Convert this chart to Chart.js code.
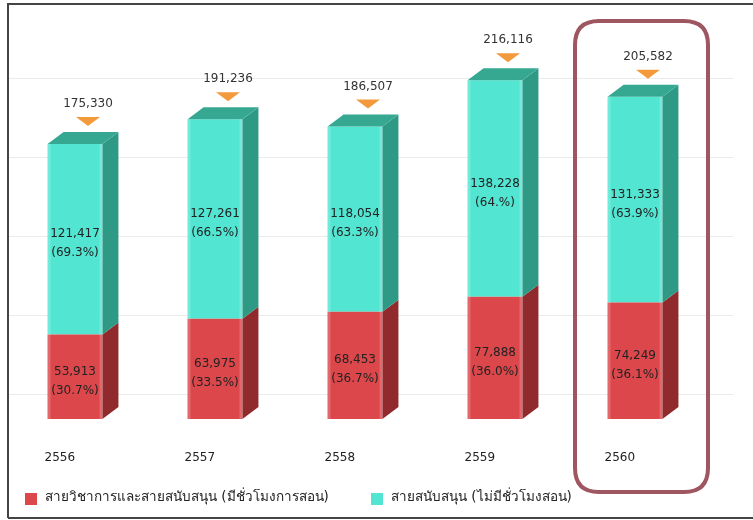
<!DOCTYPE html>
<html>
<head>
<meta charset="utf-8">
<script src="https://cdn.jsdelivr.net/npm/chart.js@4.4.1/dist/chart.umd.min.js"></script>
<style>
  html, body { margin: 0; padding: 0; background: #fff; }
  #wrap { width: 753px; height: 520px; }
</style>
</head>
<body>
<div id="wrap"><canvas id="staffChart" width="753" height="520"></canvas></div>
<script>
// data
const years = ['2556', '2557', '2558', '2559', '2560'];
const academic = [53913, 63975, 68453, 77888, 74249];
const support = [121417, 127261, 118054, 138228, 131333];
const totals = [175330, 191236, 186507, 216116, 205582];
const academicPct = ['30.7%', '33.5%', '36.7%', '36.0%', '36.1%'];
const supportPct = ['69.3%', '66.5%', '63.3%', '64.%', '63.9%'];
const gridValues = [16000, 66300, 116700, 167000, 217400];
const seriesNames = ['สายวิชาการและสายสนับสนุน (มีชั่วโมงการสอน)', 'สายสนับสนุน (ไม่มีชั่วโมงสอน)'];
const highlightIndex = 4;

const FONT = '12px "DejaVu Sans", Tahoma, sans-serif';
const DX = 16, DY = 12; // 3d depth offset

const faces = [
    { front: '#dc474b', side: '#902a2d', top: '#b8383b' },
    { front: '#52e6d2', side: '#2e9a86', top: '#36a892' }
];

function fmt(n) {
    return n.toLocaleString('en-US');
}

function roundRect(ctx, x, y, w, h, r) {
    ctx.beginPath();
    ctx.moveTo(x + r, y);
    ctx.lineTo(x + w - r, y);
    ctx.quadraticCurveTo(x + w, y, x + w, y + r);
    ctx.lineTo(x + w, y + h - r);
    ctx.quadraticCurveTo(x + w, y + h, x + w - r, y + h);
    ctx.lineTo(x + r, y + h);
    ctx.quadraticCurveTo(x, y + h, x, y + h - r);
    ctx.lineTo(x, y + r);
    ctx.quadraticCurveTo(x, y, x + r, y);
    ctx.closePath();
}

// back grid lines
const backPlugin = {
    id: 'back',
    beforeDatasetsDraw(chart) {
        const ctx = chart.ctx;
        const y = chart.scales.y;
        ctx.save();
        ctx.strokeStyle = '#ebebeb';
        ctx.lineWidth = 1;
        gridValues.forEach(v => {
            const py = Math.round(y.getPixelForValue(v)) + 0.5;
            ctx.beginPath();
            ctx.moveTo(8, py);
            ctx.lineTo(733, py);
            ctx.stroke();
        });
        ctx.restore();
    }
};

// side/top faces, labels, markers, legend, highlight
const barDecor = {
    id: 'barDecor',
    afterDatasetsDraw(chart) {
        const ctx = chart.ctx;
        ctx.save();
        chart.data.datasets.forEach((ds, di) => {
            const meta = chart.getDatasetMeta(di);
            meta.data.forEach((bar, i) => {
                const left = bar.x - bar.width / 2;
                const right = bar.x + bar.width / 2;
                const top = Math.min(bar.y, bar.base);
                const bottom = Math.max(bar.y, bar.base);
                // side face
                ctx.fillStyle = faces[di].side;
                ctx.beginPath();
                ctx.moveTo(right, top);
                ctx.lineTo(right + DX, top - DY);
                ctx.lineTo(right + DX, bottom - DY);
                ctx.lineTo(right, bottom);
                ctx.closePath();
                ctx.fill();
                // top face only on the last series
                if (di === chart.data.datasets.length - 1) {
                    ctx.fillStyle = faces[di].top;
                    ctx.beginPath();
                    ctx.moveTo(left, top);
                    ctx.lineTo(left + DX, top - DY);
                    ctx.lineTo(right + DX, top - DY);
                    ctx.lineTo(right, top);
                    ctx.closePath();
                    ctx.fill();
                }
                // soft highlight on front edges
                ctx.fillStyle = 'rgba(255,255,255,0.18)';
                ctx.fillRect(left, top, 3, bottom - top);
                ctx.fillRect(right - 3, top, 3, bottom - top);

                // value labels
                const pct = di === 0 ? academicPct[i] : supportPct[i];
                const mid = (top + bottom) / 2 + 4;
                ctx.fillStyle = '#222';
                ctx.font = FONT;
                ctx.textAlign = 'center';
                ctx.textBaseline = 'middle';
                ctx.fillText(fmt(ds.data[i]), bar.x, mid - 9);
                ctx.fillText('(' + pct + ')', bar.x, mid + 10);
            });
        });

        // totals with orange markers
        const y = chart.scales.y;
        const topMeta = chart.getDatasetMeta(chart.data.datasets.length - 1);
        topMeta.data.forEach((bar, i) => {
            const py = y.getPixelForValue(totals[i]);
            const cx = bar.x + 13;
            const tipY = py - DY - 6;
            ctx.fillStyle = '#f39a3c';
            ctx.beginPath();
            ctx.moveTo(cx - 12, tipY - 9);
            ctx.lineTo(cx + 12, tipY - 9);
            ctx.lineTo(cx, tipY);
            ctx.closePath();
            ctx.fill();
            ctx.fillStyle = '#333';
            ctx.font = FONT;
            ctx.textAlign = 'center';
            ctx.textBaseline = 'middle';
            ctx.fillText(fmt(totals[i]), cx, tipY - 22);

            // year labels under the bars
            ctx.textAlign = 'left';
            ctx.fillStyle = '#222';
            ctx.fillText(years[i], bar.x - bar.width / 2 - 3, 458);
        });

        // highlight box around one year
        const hb = topMeta.data[highlightIndex];
        ctx.strokeStyle = '#9e5660';
        ctx.lineWidth = 4;
        roundRect(ctx, hb.x - 60, 21, 133, 471, 24);
        ctx.stroke();

        // legend
        ctx.font = '13.5px "DejaVu Sans", Tahoma, sans-serif';
        ctx.textAlign = 'left';
        ctx.textBaseline = 'middle';
        const legendX = [25, 371];
        chart.data.datasets.forEach((ds, di) => {
            ctx.fillStyle = faces[di].front;
            ctx.fillRect(legendX[di], 493, 12, 12);
            ctx.fillStyle = '#222';
            ctx.fillText(ds.label, legendX[di] + 20, 497);
        });

        // outer frame
        ctx.strokeStyle = '#444';
        ctx.lineWidth = 2;
        ctx.beginPath();
        ctx.moveTo(8, 518);
        ctx.lineTo(8, 4);
        ctx.lineTo(753, 4);
        ctx.moveTo(8, 518);
        ctx.lineTo(753, 518);
        ctx.stroke();
        ctx.restore();
    }
};

const ctx = document.getElementById('staffChart').getContext('2d');
new Chart(ctx, {
    type: 'bar',
    data: {
        labels: years,
        datasets: [
            {
                label: seriesNames[0],
                data: academic,
                backgroundColor: faces[0].front,
                borderWidth: 0
            },
            {
                label: seriesNames[1],
                data: support,
                backgroundColor: faces[1].front,
                borderWidth: 0
            }
        ]
    },
    options: {
        responsive: false,
        animation: false,
        layout: { padding: { left: 5, right: 48, top: 27, bottom: 101 } },
        barPercentage: 0.8,
        categoryPercentage: 0.49,
        plugins: {
            legend: { display: false },
            tooltip: { enabled: false }
        },
        scales: {
            x: { stacked: true, display: false },
            y: { stacked: true, display: false, min: 0, max: 250000 }
        }
    },
    plugins: [backPlugin, barDecor]
});
</script>
</body>
</html>
